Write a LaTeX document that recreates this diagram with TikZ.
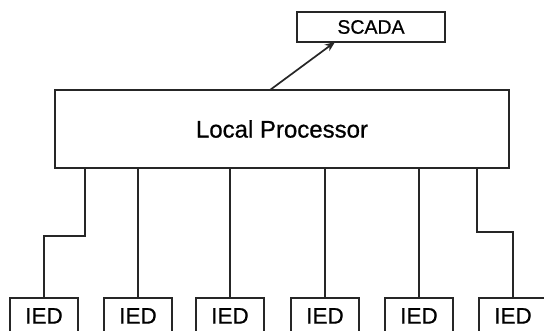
\documentclass[tikz,border=0pt]{standalone}
\usepackage{fontspec}
\setmainfont{Liberation Sans}
\newfontfamily\medfont[FakeBold=0.7]{Liberation Sans}
\usetikzlibrary{arrows.meta,calc}
\begin{document}
\begin{tikzpicture}[x=1pt,y=-1pt,
  box/.style={draw=black!85,line width=1.7pt,rectangle,inner sep=0pt},
  ied/.style={box,minimum width=68pt,minimum height=36pt,anchor=north,font=\medfont\fontsize{22.5}{22.5}\selectfont},
  wire/.style={draw=black!85,line width=1.7pt}]
\clip (0,0) rectangle (544,331);
\fill[white] (0,0) rectangle (544,331);
\node[box,minimum width=148pt,minimum height=30pt,font=\medfont\fontsize{19.5}{19.5}\selectfont] (scada) at (371,27) {SCADA};
\node[box,minimum width=454pt,minimum height=78pt,font=\medfont\fontsize{24}{24}\selectfont] (lp) at (282,129) {Local Processor};
\node[ied] (i1) at (44,297) {IED};
\node[ied] (i2) at (138,297) {IED};
\node[ied] (i3) at (230,297) {IED};
\node[ied] (i4) at (325,297) {IED};
\node[ied] (i5) at (419,297) {IED};
\node[ied] (i6) at (513,297) {IED};
\coordinate (a0) at (270,90);
\coordinate (a1) at (335,42);
\draw[wire,-{Stealth[length=10pt,width=8pt]}] (a0) -- (a1);
\coordinate (b1) at (85,168);
\coordinate (b6) at (477,168);
\draw[wire] (b1) -- ++(0,68) -| (i1.north);
\draw[wire] (lp.south -| i2.north) -- (i2.north);
\draw[wire] (lp.south -| i3.north) -- (i3.north);
\draw[wire] (lp.south -| i4.north) -- (i4.north);
\draw[wire] (lp.south -| i5.north) -- (i5.north);
\draw[wire] (b6) -- ++(0,64) -| (i6.north);
\end{tikzpicture}
\end{document}
